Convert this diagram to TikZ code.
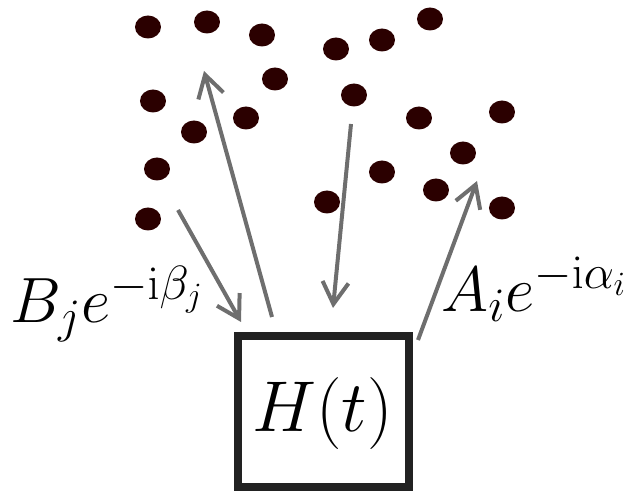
\RequirePackage{fix-cm}
\documentclass[tikz,border=0pt]{standalone}
\usetikzlibrary{arrows.meta}
\definecolor{dotred}{RGB}{43,0,0}
\definecolor{arrowgray}{RGB}{110,110,110}
\definecolor{boxgray}{RGB}{34,34,34}
\DeclareMathSizes{32}{32}{24}{17}

\begin{document}
\begin{tikzpicture}[x=0.5pt, y=-0.5pt,
  wave/.style={arrowgray, line width=2pt, -{Straight Barb[length=11pt, width=13pt]}},
  particle/.style={fill=dotred},
  biglabel/.style={inner sep=0pt, anchor=base west, font=\fontsize{32}{38}\selectfont}]
  \useasboundingbox (0,0) rectangle (634,491);

  % bath particles
  \foreach \px/\py in {148/27, 207/22, 262/35, 336/49, 382/40, 430/19,
                       275/79, 153/101, 354/95, 246/118, 194/132, 419/118, 502/112,
                       157/169, 382/172, 463/153, 436/190, 502/208, 327/202, 148/219}
    \fill[particle] (\px,\py) ellipse [x radius=13, y radius=11.5];

  % system box
  \node[draw=boxgray, line width=4pt, minimum width=85.5pt, minimum height=75.5pt,
        inner sep=0pt, font=\fontsize{36}{42}\selectfont] (ham) at (323.5,411.5) {};
  \node[inner sep=0pt, anchor=base, font=\fontsize{36}{42}\selectfont] (hlabel)
        at (322.5,432) {$H(t)$};

  % ends of the waves
  \coordinate (inB) at (178,210);
  \coordinate (tipB) at (241,322);
  \coordinate (outL) at (272,317);
  \coordinate (tipL) at (204,71);
  \coordinate (inM) at (351,124);
  \coordinate (tipM) at (333,308);
  \coordinate (outA) at (418,340);
  \coordinate (tipA) at (477,181);

  \draw[wave] (inB) -- (tipB);
  \draw[wave] (outL) -- (tipL);
  \draw[wave] (inM) -- (tipM);
  \draw[wave] (outA) -- (tipA);

  % amplitudes
  \node[biglabel] (labB) at (10,323) {$B_j e^{-\mathrm{i}\beta_j}$};
  \node[biglabel] (labA) at (441,312) {$A_i e^{-\mathrm{i}\alpha_i}$};
\end{tikzpicture}
\end{document}
